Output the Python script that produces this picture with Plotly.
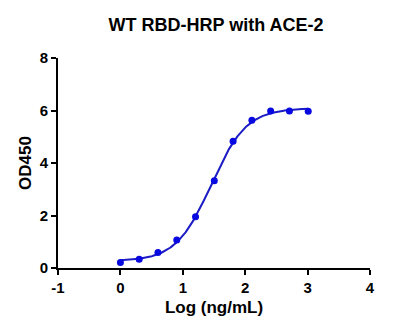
import numpy as np
import plotly.graph_objects as go

# Two-fold dilution series, log10 concentration (ng/mL)
log_conc = [0.0, 0.301, 0.602, 0.903, 1.204, 1.505, 1.806, 2.107, 2.408, 2.709, 3.010]
od450 = [0.21, 0.33, 0.59, 1.07, 1.95, 3.32, 4.83, 5.63, 5.98, 5.98, 5.97]

x_ticks = [-1, 0, 1, 2, 3, 4]
y_ticks = [0, 2, 4, 6, 8]

# Four-parameter logistic fit: grid over logEC50 / Hill slope,
# bottom and top solved by linear least squares at each grid point.
xd = np.array(log_conc)
yd = np.array(od450)
best = None
for ec in np.linspace(1.0, 2.0, 201):
    for h in np.linspace(0.5, 3.0, 251):
        s = 1.0 / (1.0 + 10 ** ((ec - xd) * h))
        A = np.column_stack([1 - s, s])
        coef, *_ = np.linalg.lstsq(A, yd, rcond=None)
        err = np.sum((A @ coef - yd) ** 2)
        if best is None or err < best[0]:
            best = (err, ec, h, coef[0], coef[1])
_, ec50, hill, bottom, top = best

xf = np.linspace(min(log_conc), max(log_conc), 300)
yf = bottom + (top - bottom) / (1.0 + 10 ** ((ec50 - xf) * hill))

fig = go.Figure()
fig.add_trace(go.Scatter(x=xf, y=yf, mode="lines",
                         line=dict(color="#1c1cc4", width=2),
                         hoverinfo="skip", showlegend=False))
fig.add_trace(go.Scatter(x=log_conc, y=od450, mode="markers",
                         marker=dict(color="#0808e0", size=7),
                         showlegend=False))

font_family = "Arial, Liberation Sans, sans-serif"
fig.update_layout(
    width=418, height=332,
    margin=dict(l=58, r=48, t=58, b=64),
    paper_bgcolor="white", plot_bgcolor="white",
    font=dict(family=font_family, color="black"),
    title=dict(text="<b>WT RBD-HRP with ACE-2</b>", x=0.517, xanchor="center",
               y=0.925, yanchor="middle", font=dict(size=18, color="black")),
)
fig.update_xaxes(
    range=[-1, 4], tickvals=x_ticks, ticktext=[f"<b>{v}</b>" for v in x_ticks],
    showgrid=False, zeroline=False, showline=True, linecolor="black", linewidth=2,
    ticks="outside", ticklen=5, tickwidth=2, tickcolor="black",
    tickfont=dict(size=15), title=dict(text="<b>Log (ng/mL)</b>", font=dict(size=17), standoff=6),
)
fig.update_yaxes(
    range=[0, 8], tickvals=y_ticks, ticktext=[f"<b>{v}</b>" for v in y_ticks],
    showgrid=False, zeroline=False, showline=True, linecolor="black", linewidth=2,
    ticks="outside", ticklen=5, tickwidth=2, tickcolor="black",
    tickfont=dict(size=15), title=dict(text="<b>OD450</b>", font=dict(size=17), standoff=4),
)

fig.write_html("out.html")
